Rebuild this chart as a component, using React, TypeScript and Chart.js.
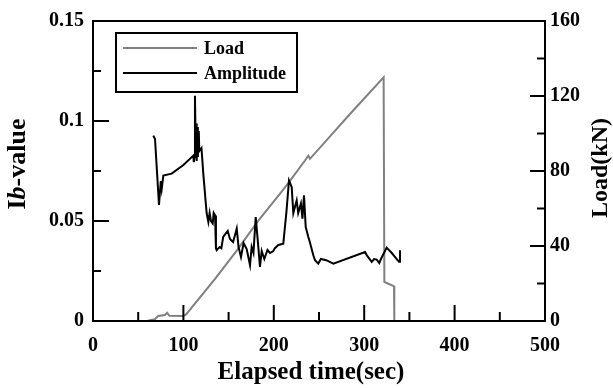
import React, { useEffect, useRef } from "react";
import { Chart, registerables } from "chart.js";

Chart.register(...registerables);

// ---- data ----
const loadTime = [0, 60, 64, 68.6, 72, 79.6, 82, 84.5, 100, 103, 135, 159, 182.9, 206.9, 216, 234.5, 238.2, 240, 258.5, 284.3, 321.5, 322.3, 326, 330.4, 333, 333.3, 341];
const loadKN = [0, 0, 0.5, 1, 2.7, 3.2, 4.4, 2.8, 2.7, 3.5, 22.5, 37.5, 53.5, 67.9, 73.5, 85.6, 88.2, 86.5, 96.5, 110.4, 130, 20.9, 20, 19.1, 18.5, 0, 0];

const ampTime = [66.7, 68.6, 73, 75, 76, 77.8, 87, 100, 111, 111.5, 112.3, 112.8, 113.5, 114, 114.7, 115.3, 116, 117, 117.6, 120, 122, 125.7, 127.6, 129, 130.5, 132.4, 133.5, 135, 136, 136.8, 140, 142, 144, 149, 151.5, 155, 159, 161, 163.7, 166.6, 170, 173.7, 175.5, 177.5, 180, 182.5, 184.7, 186.6, 189.5, 193, 195.8, 199.5, 201, 205, 210.5, 214, 216.8, 219.8, 221.6, 225.3, 227, 230, 231.7, 233.4, 235.3, 238.2, 240, 243.7, 245.6, 249.2, 252, 258, 265.9, 300.9, 302.7, 308.3, 311, 313.8, 316.7, 318.5, 324.9, 330.5, 338.5, 339.6];
const ampValue = [0.0927, 0.091, 0.058, 0.070, 0.066, 0.0727, 0.0737, 0.078, 0.0827, 0.0794, 0.082, 0.1126, 0.09, 0.0987, 0.080, 0.097, 0.082, 0.095, 0.085, 0.0865, 0.0737, 0.054, 0.0495, 0.054, 0.050, 0.0488, 0.054, 0.0528, 0.0364, 0.0354, 0.037, 0.0364, 0.042, 0.045, 0.041, 0.0395, 0.0462, 0.037, 0.032, 0.039, 0.036, 0.0279, 0.037, 0.034, 0.052, 0.039, 0.027, 0.035, 0.031, 0.0355, 0.034, 0.035, 0.0363, 0.038, 0.0387, 0.0547, 0.0703, 0.067, 0.054, 0.0603, 0.054, 0.0587, 0.0512, 0.0628, 0.047, 0.042, 0.0393, 0.0329, 0.0304, 0.0287, 0.031, 0.0304, 0.0287, 0.0345, 0.033, 0.0296, 0.031, 0.0307, 0.029, 0.031, 0.0367, 0.034, 0.0296, 0.0354];

const seriesNames = ["Load", "Amplitude"];
const xTitle = "Elapsed time(sec)";
const yTitleParts = ["I", "b", "-value"];
const y1Title = "Load(kN)";

const FONT = '"Liberation Serif", "Times New Roman", serif';

function line(ctx: CanvasRenderingContext2D, x1: number, y1: number, x2: number, y2: number) {
  ctx.beginPath();
  ctx.moveTo(x1, y1);
  ctx.lineTo(x2, y2);
  ctx.stroke();
}

const decorPlugin = {
  id: "decor",
  afterDatasetsDraw(chart: any) {
    const { ctx, chartArea: a, scales } = chart;
    ctx.save();
    ctx.strokeStyle = "#000";
    ctx.lineWidth = 2;
    ctx.strokeRect(a.left, a.top, a.right - a.left, a.bottom - a.top);

    // inward ticks - bottom axis
    const xs = scales.x;
    for (let i = 0; i <= 10; i++) {
      const v = i * 50;
      const px = xs.getPixelForValue(v);
      line(ctx, px, a.bottom, px, a.bottom - (i % 2 === 0 ? 16 : 9));
    }
    // left axis
    const ys = scales.y;
    for (let i = 0; i <= 6; i++) {
      const py = ys.getPixelForValue(i * 0.025);
      line(ctx, a.left, py, a.left + (i % 2 === 0 ? 16 : 8), py);
    }
    // right axis
    const y1s = scales.y1;
    for (let i = 0; i <= 8; i++) {
      const py = y1s.getPixelForValue(i * 20);
      line(ctx, a.right, py, a.right - (i % 2 === 0 ? 15 : 8), py);
    }

    // legend
    const lx = a.left + 23, ly = a.top + 12, lw = 181, lh = 59;
    ctx.strokeRect(lx, ly, lw, lh);
    ctx.font = `bold 18px ${FONT}`;
    ctx.textBaseline = "middle";
    ctx.textAlign = "left";
    chart.data.datasets.forEach((ds: any, i: number) => {
      const yy = ly + 15 + i * 25;
      ctx.strokeStyle = ds.borderColor;
      ctx.lineWidth = 2;
      line(ctx, lx + 7, yy, lx + 81, yy);
      ctx.fillStyle = "#000";
      ctx.fillText(ds.label, lx + 88, yy + 1);
    });

    // left title with italic b
    ctx.fillStyle = "#000";
    ctx.save();
    ctx.translate(18, 164);
    ctx.rotate(-Math.PI / 2);
    const fonts = [`bold 26px ${FONT}`, `italic bold 26px ${FONT}`, `bold 26px ${FONT}`];
    let total = 0;
    const widths = yTitleParts.map((t, i) => {
      ctx.font = fonts[i];
      const w = ctx.measureText(t).width;
      total += w;
      return w;
    });
    let cx = -total / 2;
    ctx.textBaseline = "middle";
    yTitleParts.forEach((t, i) => {
      ctx.font = fonts[i];
      ctx.fillText(t, cx, 0);
      cx += widths[i];
    });
    ctx.restore();

    // right title
    ctx.save();
    ctx.translate(601, 168);
    ctx.rotate(-Math.PI / 2);
    ctx.font = `bold 24px ${FONT}`;
    ctx.textAlign = "center";
    ctx.textBaseline = "middle";
    ctx.fillText(y1Title, 0, 0);
    ctx.restore();

    // x title
    ctx.font = `bold 25px ${FONT}`;
    ctx.textAlign = "center";
    ctx.textBaseline = "alphabetic";
    ctx.fillText(xTitle, 311, 379);

    ctx.restore();
  },
};

export default function App() {
  const ref = useRef<HTMLCanvasElement | null>(null);

  useEffect(() => {
    if (!ref.current) return;
    const loadPts = loadTime.map((t, i) => ({ x: t, y: loadKN[i] }));
    const ampPts = ampTime.map((t, i) => ({ x: t, y: ampValue[i] }));
    const tickFont = { family: FONT, size: 20, weight: "bold" as const };
    const chart = new Chart(ref.current, {
      type: "line",
      data: {
        datasets: [
          {
            label: seriesNames[0],
            data: loadPts,
            yAxisID: "y1",
            borderColor: "#808080",
            borderWidth: 2,
            pointRadius: 0,
            tension: 0,
            order: 2,
          },
          {
            label: seriesNames[1],
            data: ampPts,
            yAxisID: "y",
            borderColor: "#000000",
            borderWidth: 2,
            pointRadius: 0,
            tension: 0,
            order: 1,
          },
        ],
      },
      options: {
        animation: false,
        responsive: false,
        layout: { padding: { top: 20, left: 0, right: 0, bottom: 0 } },
        plugins: { legend: { display: false }, tooltip: { enabled: false } },
        scales: {
          x: {
            type: "linear",
            min: 0,
            max: 500,
            grid: { display: false, drawTicks: false },
            border: { display: false },
            ticks: { stepSize: 100, padding: 13, color: "#000", font: tickFont, maxRotation: 0 },
            afterFit: (s: any) => { s.height = 67; },
          },
          y: {
            type: "linear",
            position: "left",
            min: 0,
            max: 0.15,
            grid: { display: false, drawTicks: false },
            border: { display: false },
            ticks: {
              stepSize: 0.05,
              padding: 9,
              color: "#000",
              font: tickFont,
              callback: (v: any) => String(+Number(v).toFixed(3)),
            },
            afterFit: (s: any) => { s.width = 93; },
          },
          y1: {
            type: "linear",
            position: "right",
            min: 0,
            max: 160,
            grid: { display: false, drawTicks: false },
            border: { display: false },
            ticks: { stepSize: 40, padding: 5, color: "#000", font: tickFont },
            afterFit: (s: any) => { s.width = 68; },
          },
        },
      },
      plugins: [decorPlugin],
    });
    return () => chart.destroy();
  }, []);

  return (
    <div style={{ position: "fixed", left: 0, top: 0, width: 613, height: 388, background: "#fff" }}>
      <canvas ref={ref} width={613} height={388} style={{ display: "block" }} />
    </div>
  );
}
